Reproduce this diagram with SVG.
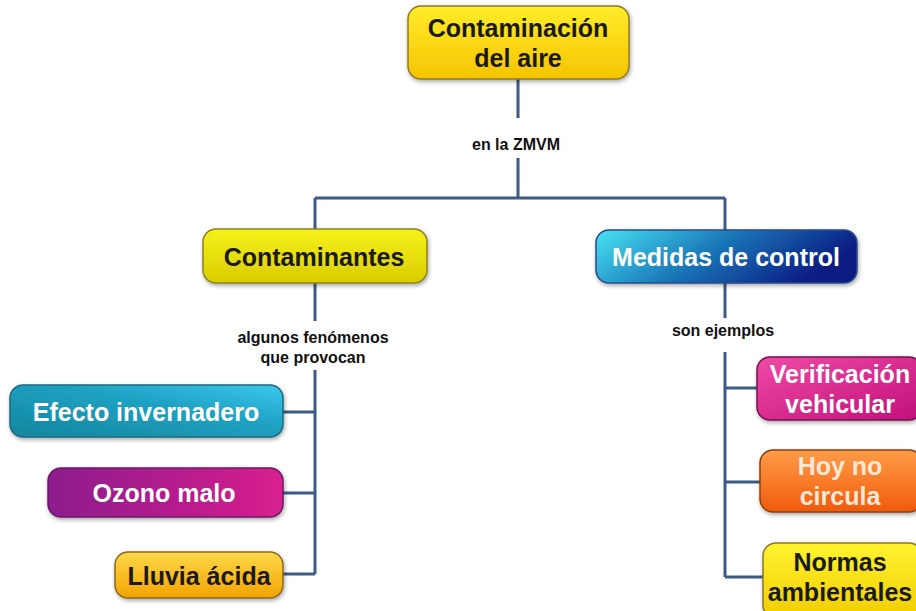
<svg xmlns="http://www.w3.org/2000/svg" width="916" height="611" viewBox="0 0 916 611">
<defs>
<style>
.node text{font-family:"Liberation Sans",Arial,sans-serif;font-weight:bold;font-size:25px;text-anchor:middle}
.lbl{font-family:"Liberation Sans",Arial,sans-serif;font-weight:bold;font-size:16px;text-anchor:middle;fill:#111}
.dk{fill:#1a1a1a}
.wt{fill:#ffffff}
.box{stroke-width:1.5}
#connectors path{fill:none;stroke:#3b5b82;stroke-width:3}
</style>
<filter id="sh" x="-10%" y="-20%" width="120%" height="150%">
<feDropShadow dx="1" dy="2" stdDeviation="2" flood-color="#000" flood-opacity="0.35"/>
</filter>
<linearGradient id="gTop" x1="0" y1="0" x2="0" y2="1"><stop offset="0" stop-color="#ffec2a"/><stop offset="1" stop-color="#f6c400"/></linearGradient>
<linearGradient id="gCont" x1="0" y1="0" x2="0" y2="1"><stop offset="0" stop-color="#f6f21a"/><stop offset="1" stop-color="#d9cc00"/></linearGradient>
<linearGradient id="gMed" x1="0" y1="0" x2="1" y2="0.3"><stop offset="0" stop-color="#48e4f4"/><stop offset="0.5" stop-color="#1a78b8"/><stop offset="1" stop-color="#0a1c82"/></linearGradient>
<linearGradient id="gEf" x1="0" y1="1" x2="1" y2="0"><stop offset="0" stop-color="#14859c"/><stop offset="0.6" stop-color="#1fa2c4"/><stop offset="1" stop-color="#3cc8ee"/></linearGradient>
<linearGradient id="gOz" x1="0" y1="0" x2="1" y2="0"><stop offset="0" stop-color="#8c1a8c"/><stop offset="1" stop-color="#d8208e"/></linearGradient>
<linearGradient id="gLl" x1="0" y1="0" x2="0" y2="1"><stop offset="0" stop-color="#ffd84a"/><stop offset="1" stop-color="#f2a400"/></linearGradient>
<linearGradient id="gVer" x1="0" y1="0" x2="1" y2="1"><stop offset="0" stop-color="#f04aa6"/><stop offset="1" stop-color="#c0107a"/></linearGradient>
<linearGradient id="gHoy" x1="0" y1="0" x2="0" y2="1"><stop offset="0" stop-color="#ff9c48"/><stop offset="1" stop-color="#f05a0c"/></linearGradient>
<linearGradient id="gNor" x1="0" y1="0" x2="0" y2="1"><stop offset="0" stop-color="#fff430"/><stop offset="1" stop-color="#f0cc00"/></linearGradient>
</defs>
<rect width="916" height="611" fill="#ffffff"/>

<g id="connectors">
<path d="M518 79 V118 M518 158 V198 M315 198 H725 M315 198 V229 M725 198 V230"/>
<path d="M315 283 V321 M315 370 V574 M283 412 H315 M283 493 H315 M283 574 H315"/>
<path d="M725 283 V318 M725 352 V577 M725 388 H757 M725 482 H760 M725 577 H763"/>
</g>

<g id="lbl-zmvm"><text class="lbl" x="516" y="150">en la ZMVM</text></g>
<g id="lbl-fen"><text class="lbl" x="313" y="343">algunos fenómenos</text><text class="lbl" x="313" y="363">que provocan</text></g>
<g id="lbl-ej"><text class="lbl" x="723" y="336">son ejemplos</text></g>

<g id="n-contaminacion" class="node">
<rect class="box" x="408" y="6" width="221" height="73" rx="13" fill="url(#gTop)" stroke="#8c7a2a" filter="url(#sh)"/>
<text class="dk" x="518" y="37">Contaminación</text>
<text class="dk" x="518" y="67">del aire</text>
</g>
<g id="n-contaminantes" class="node">
<rect class="box" x="203" y="229" width="224" height="54" rx="13" fill="url(#gCont)" stroke="#8a8420" filter="url(#sh)"/>
<text class="dk" x="314" y="266">Contaminantes</text>
</g>
<g id="n-medidas" class="node">
<rect class="box" x="596" y="230" width="261" height="53" rx="13" fill="url(#gMed)" stroke="#2a4a8a" filter="url(#sh)"/>
<text class="wt" x="726" y="266">Medidas de control</text>
</g>
<g id="n-efecto" class="node">
<rect class="box" x="10" y="385" width="273" height="52" rx="13" fill="url(#gEf)" stroke="#1a6a80" filter="url(#sh)"/>
<text class="wt" x="146" y="421">Efecto invernadero</text>
</g>
<g id="n-ozono" class="node">
<rect class="box" x="48" y="468" width="235" height="49" rx="13" fill="url(#gOz)" stroke="#6a1a6a" filter="url(#sh)"/>
<text class="wt" x="164" y="502">Ozono malo</text>
</g>
<g id="n-lluvia" class="node">
<rect class="box" x="115" y="552" width="168" height="46" rx="13" fill="url(#gLl)" stroke="#8a6a20" filter="url(#sh)"/>
<text class="dk" x="199" y="585">Lluvia ácida</text>
</g>
<g id="n-verificacion" class="node">
<rect class="box" x="757" y="357" width="165" height="63" rx="13" fill="url(#gVer)" stroke="#7a1050" filter="url(#sh)"/>
<text class="wt" x="840" y="383">Verificación</text>
<text class="wt" x="840" y="413">vehicular</text>
</g>
<g id="n-hoy" class="node">
<rect class="box" x="760" y="450" width="162" height="62" rx="13" fill="url(#gHoy)" stroke="#8a4010" filter="url(#sh)"/>
<text fill="#ffe8d8" x="840" y="475">Hoy no</text>
<text fill="#ffe8d8" x="840" y="505">circula</text>
</g>
<g id="n-normas" class="node">
<rect class="box" x="763" y="543" width="159" height="75" rx="13" fill="url(#gNor)" stroke="#8a7a20" filter="url(#sh)"/>
<text class="dk" x="840" y="571">Normas</text>
<text class="dk" x="840" y="601">ambientales</text>
</g>
</svg>
